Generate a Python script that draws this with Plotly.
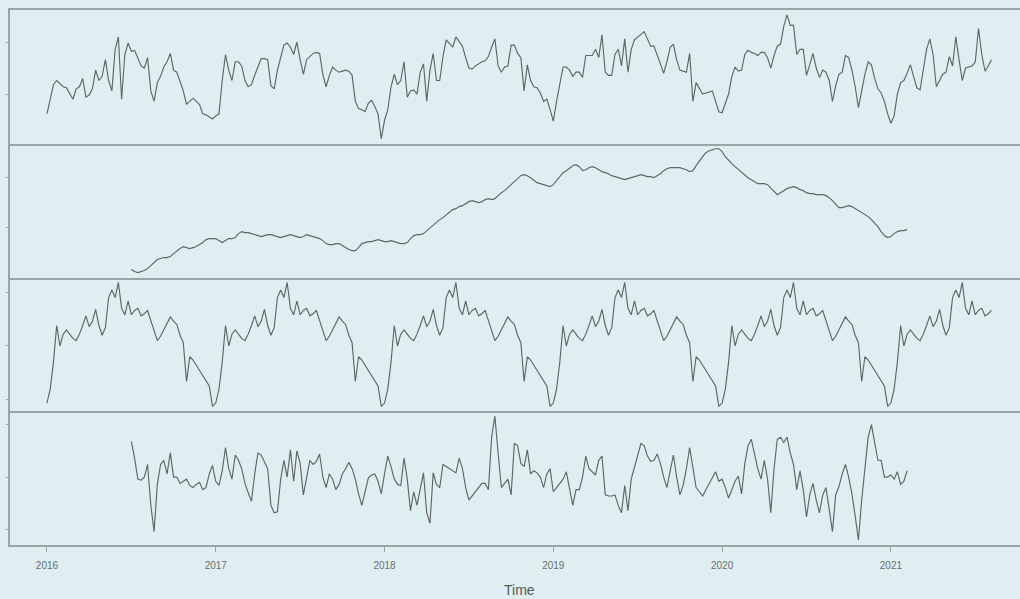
import numpy as np
import plotly.graph_objects as go
from plotly.subplots import make_subplots

# weekly series, frequency 52, starting 2016 week 1
start_year = 2016
freq = 52

observed = [
    31, 45, 59, 63, 60, 57, 56, 51, 45, 55, 57, 65, 47, 49, 55, 73, 63, 67, 83, 63,
    53, 93, 105, 45, 88, 99, 91, 92, 85, 77, 75, 85, 53, 43, 61, 67, 76, 81, 89, 73,
    71, 61, 53, 40, 43, 46, 43, 40, 31, 30, 28, 26, 29, 31, 63, 88, 73, 63, 81, 81,
    77, 63, 57, 59, 68, 77, 84, 84, 83, 58, 55, 73, 85, 97, 99, 95, 88, 100, 83, 69,
    83, 86, 89, 90, 89, 69, 57, 68, 76, 73, 71, 72, 73, 72, 68, 43, 36, 35, 33, 41,
    44, 38, 31, 7, 25, 35, 57, 69, 59, 63, 81, 47, 53, 54, 50, 71, 79, 43, 73, 89,
    63, 63, 86, 102, 98, 95, 105, 101, 96, 85, 75, 74, 77, 79, 81, 82, 86, 95, 103, 77,
    71, 76, 77, 97, 97, 89, 85, 53, 78, 63, 57, 56, 51, 43, 45, 35, 24, 43, 61, 76,
    76, 73, 67, 71, 71, 66, 87, 87, 87, 93, 85, 107, 71, 68, 68, 88, 93, 77, 103, 71,
    93, 102, 105, 107, 110, 103, 96, 96, 88, 79, 70, 81, 95, 98, 83, 73, 72, 71, 89, 43,
    61, 55, 50, 51, 52, 53, 43, 33, 32, 41, 50, 67, 76, 72, 73, 88, 92, 90, 89, 87,
    90, 90, 85, 75, 87, 96, 98, 115, 126, 116, 116, 88, 93, 93, 68, 78, 89, 75, 66, 73,
    71, 63, 43, 58, 69, 71, 87, 85, 73, 57, 37, 53, 69, 81, 78, 65, 55, 51, 43, 31,
    22, 29, 50, 61, 63, 70, 78, 67, 56, 54, 75, 93, 103, 88, 57, 63, 69, 71, 86, 77,
    105, 83, 63, 75, 76, 77, 81, 113, 88, 72, 77, 83,
]

# centred moving average: weeks 27 .. 266 of the series
trend_offset = 26
trend = [
    8, 6, 5, 6, 7, 9, 12, 15, 18, 19, 20, 20, 21, 24, 27, 29, 31, 30, 29, 30,
    31, 33, 35, 38, 39, 39, 39, 37, 35, 37, 39, 39, 40, 44, 46, 45, 45, 44, 43, 42,
    41, 42, 43, 43, 42, 41, 40, 41, 42, 43, 42, 41, 40, 41, 43, 42, 41, 40, 39, 37,
    34, 33, 33, 34, 34, 32, 30, 28, 27, 27, 30, 34, 35, 36, 36, 37, 38, 37, 36, 36,
    37, 36, 35, 34, 34, 35, 39, 42, 43, 43, 44, 47, 50, 52, 55, 58, 60, 63, 66, 68,
    69, 71, 72, 74, 76, 77, 76, 75, 76, 78, 79, 78, 79, 82, 85, 87, 90, 93, 96, 99,
    102, 103, 102, 100, 97, 95, 94, 93, 92, 91, 93, 97, 101, 105, 107, 110, 112, 113, 111, 107,
    108, 110, 111, 110, 108, 106, 105, 104, 102, 101, 100, 99, 98, 99, 100, 101, 102, 103, 102, 101,
    101, 100, 102, 104, 107, 109, 110, 110, 110, 110, 109, 108, 106, 107, 112, 117, 121, 125, 127, 128,
    129, 129, 126, 121, 117, 114, 111, 108, 105, 102, 100, 98, 96, 94, 94, 94, 93, 90, 86, 83,
    85, 87, 89, 90, 91, 90, 88, 87, 85, 84, 84, 83, 83, 83, 82, 80, 77, 73, 70, 70,
    71, 72, 71, 69, 67, 65, 63, 61, 58, 55, 51, 46, 42, 40, 41, 44, 46, 47, 47, 48,
]

# one seasonal cycle (52 weekly figures)
seasonal_cycle = [
    -53, -40, -15, 19, 0, 11, 15, 11, 7, 5, 11, 19, 28, 18, 23, 34, 19, 10, 17, 45,
    52, 45, 59, 35, 29, 42, 29, 33, 35, 28, 30, 33, 23, 13, 5, 9, 15, 21, 27, 23,
    20, 10, 3, -33, -10, -13, -18, -23, -27, -32, -37, -56,
]

remainder = [
    34, 18, -2, -3, 0, 12, -27, -52, -7, 12, 16, 3, 23, 0, 0, -6, -4, -2, -8, -10,
    -7, -5, -12, -10, 3, 11, -4, -8, 6, 28, 8, -2, 21, 16, 8, -6, -15, -23, 3, 23,
    21, 15, 8, -27, -34, -33, -2, 16, 0, 26, -4, 25, 13, -17, 0, 16, 12, 15, 22, 0,
    -10, 3, -2, -12, -7, 3, 8, 14, 8, -2, -16, -27, -14, -1, 2, 3, -4, -16, 3, 20,
    10, -2, -7, -8, 18, -2, -32, -14, -27, -12, 4, -34, -44, 4, -7, -10, 12, 10, 8, 6,
    4, 18, 8, -10, -22, -18, -14, -10, -6, -6, -12, 38, 58, 23, -10, -6, -2, -17, 32, 30,
    13, 10, 26, 3, 6, 4, 0, -10, 3, 8, -14, -10, -6, -2, 5, -10, -27, -12, -12, 0,
    20, 8, 5, 2, 16, 20, -17, -18, -18, -17, -27, -34, -8, -32, -2, 10, 20, 32, 30, 20,
    15, 16, 22, 13, 0, -10, 6, 21, 0, -17, -8, 8, 28, 8, -10, -14, -18, -12, -6, 0,
    5, -4, -2, -10, -20, -12, -4, 1, -16, 13, 30, 36, 22, 8, -2, 16, -2, -34, 8, 36,
    38, 33, 38, 23, 12, -12, 6, -12, -38, -17, -6, -22, -34, -17, -10, -30, -52, -17, -9, 3,
    12, 0, -16, -37, -60, -22, 11, 38, 50, 33, 16, 16, 0, 0, 2, -2, 5, -7, -4, 6,
]

year_ticks = [2016, 2017, 2018, 2019, 2020, 2021]
panel_names = ["observed", "trend", "seasonal", "random"]

# ---- build time index ----
n = len(observed)
t_all = start_year + np.arange(n) / freq
t_trend = t_all[trend_offset:trend_offset + len(trend)]
seasonal = np.tile(seasonal_cycle, int(np.ceil(n / freq)))[:n]

series = [
    (t_all, np.array(observed, float)),
    (t_trend, np.array(trend, float)),
    (t_all, seasonal.astype(float)),
    (t_trend, np.array(remainder, float)),
]

BG = "#dfeef1"
LINE = "#606566"
FRAME = "#98a4a6"

fig = make_subplots(rows=4, cols=1, shared_xaxes=True, vertical_spacing=0)

for r, (tt, vv) in enumerate(series, start=1):
    fig.add_trace(
        go.Scatter(x=tt, y=vv, mode="lines", name=panel_names[r - 1],
                   line=dict(color=LINE, width=1.15), showlegend=False,
                   hoverinfo="x+y"),
        row=r, col=1,
    )
    lo, hi = float(vv.min()), float(vv.max())
    pad = 0.04 * (hi - lo)
    fig.update_yaxes(
        range=[lo - pad, hi + pad], showgrid=False, zeroline=False,
        showline=True, linecolor=FRAME, linewidth=2,
        ticks="outside", ticklen=2, tickcolor=FRAME, nticks=5,
        showticklabels=False, automargin=False, row=r, col=1,
    )
    fig.update_xaxes(
        range=[2015.781, 2021.765], showgrid=False, zeroline=False,
        showline=True, mirror=(r == 1), linecolor=FRAME, linewidth=2,
        ticks="", showticklabels=False, automargin=False, row=r, col=1,
    )

fig.update_xaxes(
    tickmode="array", tickvals=year_ticks, ticktext=[str(y) for y in year_ticks],
    ticks="outside", ticklen=5, tickcolor=FRAME, tickwidth=1,
    showticklabels=True, tickfont=dict(size=10, color="#6a6f70", family="Liberation Sans, Arial"),
    ticklabelstandoff=5,
    row=4, col=1,
)

fig.add_annotation(
    text="Time", xref="paper", yref="paper", x=0.504, y=-0.084,
    xanchor="center", yanchor="middle", showarrow=False,
    font=dict(size=14, color="#555a5b", family="Liberation Sans, Arial"),
)

fig.update_layout(
    width=1020, height=599,
    margin=dict(l=10, r=0, t=10, b=54),
    paper_bgcolor=BG, plot_bgcolor=BG,
    showlegend=False,
)

fig.write_html(
    "out.html",
    config={"displayModeBar": False},
    post_script="document.body.style.margin='0';document.body.style.overflow='hidden';"
                "document.body.style.background='" + BG + "';",
)
